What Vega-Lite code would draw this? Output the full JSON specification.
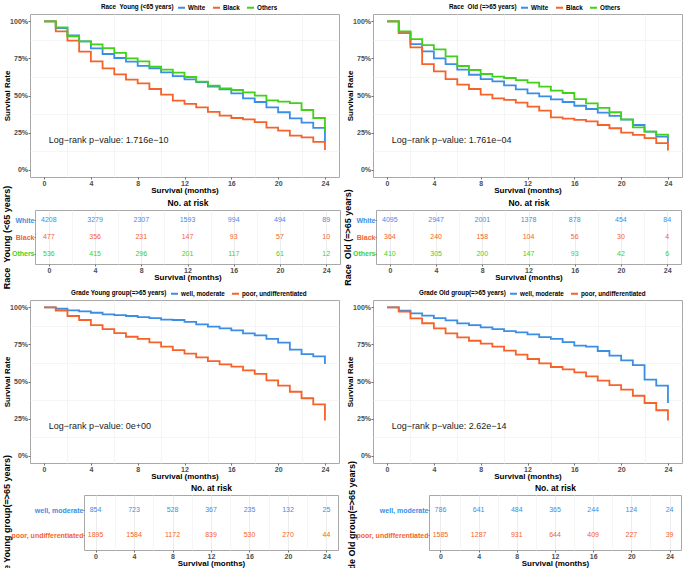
{
"$schema": "https://vega.github.io/schema/vega-lite/v6.json",
"background": "white",
"padding": {"left": 0, "top": 2, "right": 0, "bottom": 0},
"config": {
  "font": "Liberation Sans",
  "view": {"stroke": "#a8a8a8", "strokeWidth": 1},
  "axis": {"domain": false, "tickColor": "#4d4d4d", "tickSize": 2, "tickWidth": 0.8, "labelFontSize": 7, "labelFontWeight": "bold", "labelColor": "#4d4d4d", "labelPadding": 1, "titleFontSize": 8, "titleFontWeight": "bold", "titleColor": "#000000", "titlePadding": 0, "gridColor": "#e8e8e8", "gridWidth": 0.8},
  "legend": {"labelFontSize": 6.3, "labelFontWeight": "bold", "labelColor": "#000000", "titleFontSize": 6.3, "titleFontWeight": "bold", "titleColor": "#000000", "symbolType": "stroke", "symbolSize": 49, "symbolStrokeWidth": 2, "padding": 0, "columnPadding": 3, "labelOffset": 2, "titlePadding": 3}
},
"datasets": {
"km1": [
{"t":0,"g":"White","s":100},{"t":1,"g":"White","s":95.5},{"t":2,"g":"White","s":90.5},{"t":3,"g":"White","s":86.5},{"t":4,"g":"White","s":81.8},{"t":5,"g":"White","s":78},{"t":6,"g":"White","s":75.3},{"t":7,"g":"White","s":72.8},{"t":8,"g":"White","s":70},{"t":9,"g":"White","s":68.3},{"t":10,"g":"White","s":65.6},{"t":11,"g":"White","s":63.1},{"t":12,"g":"White","s":60.9},{"t":13,"g":"White","s":59.1},{"t":14,"g":"White","s":56},{"t":15,"g":"White","s":54.2},{"t":16,"g":"White","s":51.5},{"t":17,"g":"White","s":48.1},{"t":18,"g":"White","s":45.6},{"t":19,"g":"White","s":42},{"t":20,"g":"White","s":38.7},{"t":21,"g":"White","s":34.6},{"t":22,"g":"White","s":31.7},{"t":23,"g":"White","s":28.1},{"t":24,"g":"White","s":18.4},
{"t":0,"g":"Black","s":100},{"t":1,"g":"Black","s":93.3},{"t":2,"g":"Black","s":87},{"t":3,"g":"Black","s":79.6},{"t":4,"g":"Black","s":73},{"t":5,"g":"Black","s":68.3},{"t":6,"g":"Black","s":64.3},{"t":7,"g":"Black","s":60.7},{"t":8,"g":"Black","s":58.2},{"t":9,"g":"Black","s":54.4},{"t":10,"g":"Black","s":50.6},{"t":11,"g":"Black","s":46.5},{"t":12,"g":"Black","s":44.3},{"t":13,"g":"Black","s":42},{"t":14,"g":"Black","s":38.9},{"t":15,"g":"Black","s":36.4},{"t":16,"g":"Black","s":34.8},{"t":17,"g":"Black","s":33.9},{"t":18,"g":"Black","s":32.1},{"t":19,"g":"Black","s":28.3},{"t":20,"g":"Black","s":26.3},{"t":21,"g":"Black","s":22.9},{"t":22,"g":"Black","s":21.8},{"t":23,"g":"Black","s":18.7},{"t":24,"g":"Black","s":13.3},
{"t":0,"g":"Others","s":100},{"t":1,"g":"Others","s":96},{"t":2,"g":"Others","s":90},{"t":3,"g":"Others","s":86.5},{"t":4,"g":"Others","s":84.5},{"t":5,"g":"Others","s":82},{"t":6,"g":"Others","s":78.7},{"t":7,"g":"Others","s":75},{"t":8,"g":"Others","s":73},{"t":9,"g":"Others","s":69.4},{"t":10,"g":"Others","s":67.4},{"t":11,"g":"Others","s":65.4},{"t":12,"g":"Others","s":62.5},{"t":13,"g":"Others","s":59.3},{"t":14,"g":"Others","s":56.6},{"t":15,"g":"Others","s":54.8},{"t":16,"g":"Others","s":53.7},{"t":17,"g":"Others","s":52.1},{"t":18,"g":"Others","s":49.9},{"t":19,"g":"Others","s":46.7},{"t":20,"g":"Others","s":45.8},{"t":21,"g":"Others","s":44.9},{"t":22,"g":"Others","s":40.2},{"t":23,"g":"Others","s":34.8},{"t":24,"g":"Others","s":26}
],
"km2": [
{"t":0,"g":"White","s":100},{"t":1,"g":"White","s":93},{"t":2,"g":"White","s":84.7},{"t":3,"g":"White","s":79.8},{"t":4,"g":"White","s":75.1},{"t":5,"g":"White","s":71.2},{"t":6,"g":"White","s":67.4},{"t":7,"g":"White","s":64},{"t":8,"g":"White","s":61.1},{"t":9,"g":"White","s":59.6},{"t":10,"g":"White","s":56.9},{"t":11,"g":"White","s":54.2},{"t":12,"g":"White","s":51.5},{"t":13,"g":"White","s":49.4},{"t":14,"g":"White","s":47.4},{"t":15,"g":"White","s":45.6},{"t":16,"g":"White","s":43.1},{"t":17,"g":"White","s":40.9},{"t":18,"g":"White","s":38.4},{"t":19,"g":"White","s":36.2},{"t":20,"g":"White","s":33.7},{"t":21,"g":"White","s":30.1},{"t":22,"g":"White","s":25.6},{"t":23,"g":"White","s":22.2},{"t":24,"g":"White","s":18},
{"t":0,"g":"Black","s":100},{"t":1,"g":"Black","s":92.1},{"t":2,"g":"Black","s":82.5},{"t":3,"g":"Black","s":71.2},{"t":4,"g":"Black","s":66.3},{"t":5,"g":"Black","s":61.1},{"t":6,"g":"Black","s":57.3},{"t":7,"g":"Black","s":54.4},{"t":8,"g":"Black","s":50.6},{"t":9,"g":"Black","s":48.1},{"t":10,"g":"Black","s":47},{"t":11,"g":"Black","s":45.2},{"t":12,"g":"Black","s":42.5},{"t":13,"g":"Black","s":39.8},{"t":14,"g":"Black","s":35.3},{"t":15,"g":"Black","s":34.4},{"t":16,"g":"Black","s":33.5},{"t":17,"g":"Black","s":32.6},{"t":18,"g":"Black","s":30.1},{"t":19,"g":"Black","s":27.9},{"t":20,"g":"Black","s":24.9},{"t":21,"g":"Black","s":23.4},{"t":22,"g":"Black","s":21.3},{"t":23,"g":"Black","s":17.8},{"t":24,"g":"Black","s":12.8},
{"t":0,"g":"Others","s":100},{"t":1,"g":"Others","s":93.3},{"t":2,"g":"Others","s":88.1},{"t":3,"g":"Others","s":84},{"t":4,"g":"Others","s":81.1},{"t":5,"g":"Others","s":76.4},{"t":6,"g":"Others","s":69.9},{"t":7,"g":"Others","s":67.2},{"t":8,"g":"Others","s":64.5},{"t":9,"g":"Others","s":62.7},{"t":10,"g":"Others","s":61.8},{"t":11,"g":"Others","s":60.4},{"t":12,"g":"Others","s":58.7},{"t":13,"g":"Others","s":56},{"t":14,"g":"Others","s":53.3},{"t":15,"g":"Others","s":51.7},{"t":16,"g":"Others","s":47.6},{"t":17,"g":"Others","s":44.7},{"t":18,"g":"Others","s":41.6},{"t":19,"g":"Others","s":38.7},{"t":20,"g":"Others","s":33.9},{"t":21,"g":"Others","s":28.5},{"t":22,"g":"Others","s":25.6},{"t":23,"g":"Others","s":23.6},{"t":24,"g":"Others","s":22}
],
"km3": [
{"t":0,"g":"well, moderate","s":100},{"t":1,"g":"well, moderate","s":99.1},{"t":2,"g":"well, moderate","s":98},{"t":3,"g":"well, moderate","s":97.3},{"t":4,"g":"well, moderate","s":96.4},{"t":5,"g":"well, moderate","s":95.3},{"t":6,"g":"well, moderate","s":94.8},{"t":7,"g":"well, moderate","s":94.2},{"t":8,"g":"well, moderate","s":93.5},{"t":9,"g":"well, moderate","s":92.8},{"t":10,"g":"well, moderate","s":91.7},{"t":11,"g":"well, moderate","s":91.5},{"t":12,"g":"well, moderate","s":90.3},{"t":13,"g":"well, moderate","s":88.5},{"t":14,"g":"well, moderate","s":87},{"t":15,"g":"well, moderate","s":85.8},{"t":16,"g":"well, moderate","s":84.5},{"t":17,"g":"well, moderate","s":82.5},{"t":18,"g":"well, moderate","s":81.1},{"t":19,"g":"well, moderate","s":78.7},{"t":20,"g":"well, moderate","s":76.2},{"t":21,"g":"well, moderate","s":71.5},{"t":22,"g":"well, moderate","s":68.5},{"t":23,"g":"well, moderate","s":67},{"t":24,"g":"well, moderate","s":61.8},
{"t":0,"g":"poor, undifferentiated","s":100},{"t":1,"g":"poor, undifferentiated","s":97.8},{"t":2,"g":"poor, undifferentiated","s":94.2},{"t":3,"g":"poor, undifferentiated","s":91.5},{"t":4,"g":"poor, undifferentiated","s":88.1},{"t":5,"g":"poor, undifferentiated","s":85.4},{"t":6,"g":"poor, undifferentiated","s":82.7},{"t":7,"g":"poor, undifferentiated","s":80.2},{"t":8,"g":"poor, undifferentiated","s":78.7},{"t":9,"g":"poor, undifferentiated","s":76.4},{"t":10,"g":"poor, undifferentiated","s":73.5},{"t":11,"g":"poor, undifferentiated","s":71.2},{"t":12,"g":"poor, undifferentiated","s":68.8},{"t":13,"g":"poor, undifferentiated","s":66.3},{"t":14,"g":"poor, undifferentiated","s":63.8},{"t":15,"g":"poor, undifferentiated","s":61.6},{"t":16,"g":"poor, undifferentiated","s":60},{"t":17,"g":"poor, undifferentiated","s":57.5},{"t":18,"g":"poor, undifferentiated","s":55.1},{"t":19,"g":"poor, undifferentiated","s":50.8},{"t":20,"g":"poor, undifferentiated","s":47.2},{"t":21,"g":"poor, undifferentiated","s":43.1},{"t":22,"g":"poor, undifferentiated","s":38.7},{"t":23,"g":"poor, undifferentiated","s":34.6},{"t":24,"g":"poor, undifferentiated","s":23.6}
],
"km4": [
{"t":0,"g":"well, moderate","s":100},{"t":1,"g":"well, moderate","s":97.8},{"t":2,"g":"well, moderate","s":96},{"t":3,"g":"well, moderate","s":94.4},{"t":4,"g":"well, moderate","s":92.8},{"t":5,"g":"well, moderate","s":91.2},{"t":6,"g":"well, moderate","s":89.2},{"t":7,"g":"well, moderate","s":88.1},{"t":8,"g":"well, moderate","s":86.5},{"t":9,"g":"well, moderate","s":85.4},{"t":10,"g":"well, moderate","s":84},{"t":11,"g":"well, moderate","s":83.2},{"t":12,"g":"well, moderate","s":81.8},{"t":13,"g":"well, moderate","s":80},{"t":14,"g":"well, moderate","s":78.7},{"t":15,"g":"well, moderate","s":76.6},{"t":16,"g":"well, moderate","s":74.2},{"t":17,"g":"well, moderate","s":73.5},{"t":18,"g":"well, moderate","s":70.6},{"t":19,"g":"well, moderate","s":67.4},{"t":20,"g":"well, moderate","s":64.3},{"t":21,"g":"well, moderate","s":61.1},{"t":22,"g":"well, moderate","s":51.2},{"t":23,"g":"well, moderate","s":47.2},{"t":24,"g":"well, moderate","s":35.5},
{"t":0,"g":"poor, undifferentiated","s":100},{"t":1,"g":"poor, undifferentiated","s":97.1},{"t":2,"g":"poor, undifferentiated","s":92.6},{"t":3,"g":"poor, undifferentiated","s":89.3},{"t":4,"g":"poor, undifferentiated","s":85.8},{"t":5,"g":"poor, undifferentiated","s":82.5},{"t":6,"g":"poor, undifferentiated","s":79.8},{"t":7,"g":"poor, undifferentiated","s":77.5},{"t":8,"g":"poor, undifferentiated","s":75.5},{"t":9,"g":"poor, undifferentiated","s":73.5},{"t":10,"g":"poor, undifferentiated","s":70.8},{"t":11,"g":"poor, undifferentiated","s":68.1},{"t":12,"g":"poor, undifferentiated","s":65.2},{"t":13,"g":"poor, undifferentiated","s":62.2},{"t":14,"g":"poor, undifferentiated","s":59.8},{"t":15,"g":"poor, undifferentiated","s":58.2},{"t":16,"g":"poor, undifferentiated","s":56.2},{"t":17,"g":"poor, undifferentiated","s":53.5},{"t":18,"g":"poor, undifferentiated","s":50.6},{"t":19,"g":"poor, undifferentiated","s":47.6},{"t":20,"g":"poor, undifferentiated","s":44.5},{"t":21,"g":"poor, undifferentiated","s":40.4},{"t":22,"g":"poor, undifferentiated","s":35.5},{"t":23,"g":"poor, undifferentiated","s":30.6},{"t":24,"g":"poor, undifferentiated","s":23.6}
],
"rt1": [
{"t":0,"g":"White","n":4208},{"t":4,"g":"White","n":3279},{"t":8,"g":"White","n":2307},{"t":12,"g":"White","n":1593},{"t":16,"g":"White","n":994},{"t":20,"g":"White","n":494},{"t":24,"g":"White","n":89},
{"t":0,"g":"Black","n":477},{"t":4,"g":"Black","n":356},{"t":8,"g":"Black","n":231},{"t":12,"g":"Black","n":147},{"t":16,"g":"Black","n":93},{"t":20,"g":"Black","n":57},{"t":24,"g":"Black","n":10},
{"t":0,"g":"Others","n":536},{"t":4,"g":"Others","n":415},{"t":8,"g":"Others","n":296},{"t":12,"g":"Others","n":201},{"t":16,"g":"Others","n":117},{"t":20,"g":"Others","n":61},{"t":24,"g":"Others","n":12}
],
"rt2": [
{"t":0,"g":"White","n":4095},{"t":4,"g":"White","n":2947},{"t":8,"g":"White","n":2001},{"t":12,"g":"White","n":1378},{"t":16,"g":"White","n":878},{"t":20,"g":"White","n":454},{"t":24,"g":"White","n":84},
{"t":0,"g":"Black","n":364},{"t":4,"g":"Black","n":240},{"t":8,"g":"Black","n":158},{"t":12,"g":"Black","n":104},{"t":16,"g":"Black","n":56},{"t":20,"g":"Black","n":30},{"t":24,"g":"Black","n":4},
{"t":0,"g":"Others","n":410},{"t":4,"g":"Others","n":305},{"t":8,"g":"Others","n":200},{"t":12,"g":"Others","n":147},{"t":16,"g":"Others","n":93},{"t":20,"g":"Others","n":42},{"t":24,"g":"Others","n":6}
],
"rt3": [
{"t":0,"g":"well, moderate","n":854},{"t":4,"g":"well, moderate","n":723},{"t":8,"g":"well, moderate","n":528},{"t":12,"g":"well, moderate","n":367},{"t":16,"g":"well, moderate","n":235},{"t":20,"g":"well, moderate","n":132},{"t":24,"g":"well, moderate","n":25},
{"t":0,"g":"poor, undifferentiated","n":1895},{"t":4,"g":"poor, undifferentiated","n":1584},{"t":8,"g":"poor, undifferentiated","n":1172},{"t":12,"g":"poor, undifferentiated","n":839},{"t":16,"g":"poor, undifferentiated","n":530},{"t":20,"g":"poor, undifferentiated","n":270},{"t":24,"g":"poor, undifferentiated","n":44}
],
"rt4": [
{"t":0,"g":"well, moderate","n":786},{"t":4,"g":"well, moderate","n":641},{"t":8,"g":"well, moderate","n":484},{"t":12,"g":"well, moderate","n":365},{"t":16,"g":"well, moderate","n":244},{"t":20,"g":"well, moderate","n":124},{"t":24,"g":"well, moderate","n":24},
{"t":0,"g":"poor, undifferentiated","n":1585},{"t":4,"g":"poor, undifferentiated","n":1287},{"t":8,"g":"poor, undifferentiated","n":931},{"t":12,"g":"poor, undifferentiated","n":644},{"t":16,"g":"poor, undifferentiated","n":409},{"t":20,"g":"poor, undifferentiated","n":227},{"t":24,"g":"poor, undifferentiated","n":39}
],
"empty": []
},
"resolve": {"scale": {"color": "independent"}, "legend": {"color": "independent"}},
"spacing": -2,
"vconcat": [
{"spacing": -11, "resolve": {"scale": {"color": "independent"}, "legend": {"color": "independent"}},
 "vconcat": [
  {"spacing": 0, "resolve": {"scale": {"color": "independent"}, "legend": {"color": "independent"}},
   "hconcat": [
    {"width": 2, "height": 1, "data": {"name": "empty"}, "mark": "text", "view": {"stroke": null}},
    {"spacing": 5, "resolve": {"scale": {"color": "independent"}, "legend": {"color": "independent"}},
     "hconcat": [
      {"width": 309, "height": 163, "data": {"name": "km1"},
       "resolve": {"axis": {"x": "independent", "y": "independent"}},
       "layer": [
        {"data": {"name": "empty"}, "mark": "text",
         "encoding": {
          "x": {"field": "t", "type": "quantitative", "scale": {"domain": [-1.2, 25.2], "nice": false, "zero": false}, "axis": {"orient": "top", "values": [2,6,10,14,18,22], "labels": false, "ticks": false, "domain": false, "title": null, "grid": true, "gridColor": "#f3f3f3", "minExtent": 0, "maxExtent": 0}},
          "y": {"field": "s", "type": "quantitative", "scale": {"domain": [-5, 105], "nice": false, "zero": false}, "axis": {"orient": "right", "values": [12.5,37.5,62.5,87.5], "labels": false, "ticks": false, "domain": false, "title": null, "grid": true, "gridColor": "#f3f3f3", "minExtent": 0, "maxExtent": 0}}
         }},
        {"mark": {"type": "line", "interpolate": "step-after", "strokeWidth": 1.8},
         "encoding": {
          "x": {"field": "t", "type": "quantitative", "scale": {"domain": [-1.2, 25.2], "nice": false, "zero": false}, "axis": {"values": [0,4,8,12,16,20,24], "title": "Survival (months)", "labelPadding": 0}},
          "y": {"field": "s", "type": "quantitative", "scale": {"domain": [-5, 105], "nice": false, "zero": false}, "axis": {"values": [0,25,50,75,100], "labelExpr": "datum.value + '%'", "title": "Survival Rate", "labelPadding": 0.5, "minExtent": 19, "maxExtent": 19}},
          "color": {"field": "g", "type": "nominal", "scale": {"domain": ["White","Black","Others"], "range": ["#3a8ee6","#f5622a","#42d11b"]}, "legend": {"title": "Race\u00a0\u00a0Young (<65 years)", "orient": "none", "legendX": 71, "legendY": -11, "direction": "horizontal", "titleOrient": "left", "columnPadding": 3}}
         }},
        {"data": {"values": [{}]}, "mark": {"type": "text", "text": "Log−rank p−value: 1.716e−10", "align": "left", "baseline": "middle", "fontSize": 9, "color": "#1a1a1a"},
         "encoding": {"x": {"datum": 0.4, "type": "quantitative", "axis": null}, "y": {"datum": 20, "type": "quantitative", "axis": null}}}
       ]},
      {"width": 309, "height": 163, "data": {"name": "km2"},
       "resolve": {"axis": {"x": "independent", "y": "independent"}},
       "layer": [
        {"data": {"name": "empty"}, "mark": "text",
         "encoding": {
          "x": {"field": "t", "type": "quantitative", "scale": {"domain": [-1.2, 25.2], "nice": false, "zero": false}, "axis": {"orient": "top", "values": [2,6,10,14,18,22], "labels": false, "ticks": false, "domain": false, "title": null, "grid": true, "gridColor": "#f3f3f3", "minExtent": 0, "maxExtent": 0}},
          "y": {"field": "s", "type": "quantitative", "scale": {"domain": [-5, 105], "nice": false, "zero": false}, "axis": {"orient": "right", "values": [12.5,37.5,62.5,87.5], "labels": false, "ticks": false, "domain": false, "title": null, "grid": true, "gridColor": "#f3f3f3", "minExtent": 0, "maxExtent": 0}}
         }},
        {"mark": {"type": "line", "interpolate": "step-after", "strokeWidth": 1.8},
         "encoding": {
          "x": {"field": "t", "type": "quantitative", "scale": {"domain": [-1.2, 25.2], "nice": false, "zero": false}, "axis": {"values": [0,4,8,12,16,20,24], "title": "Survival (months)", "labelPadding": 0}},
          "y": {"field": "s", "type": "quantitative", "scale": {"domain": [-5, 105], "nice": false, "zero": false}, "axis": {"values": [0,25,50,75,100], "labelExpr": "datum.value + '%'", "title": "Survival Rate", "labelPadding": 0.5, "minExtent": 19, "maxExtent": 19}},
          "color": {"field": "g", "type": "nominal", "scale": {"domain": ["White","Black","Others"], "range": ["#3a8ee6","#f5622a","#42d11b"]}, "legend": {"title": "Race\u00a0\u00a0Old (=>65 years)", "orient": "none", "legendX": 76, "legendY": -11, "direction": "horizontal", "titleOrient": "left", "columnPadding": 3}}
         }},
        {"data": {"values": [{}]}, "mark": {"type": "text", "text": "Log−rank p−value: 1.761e−04", "align": "left", "baseline": "middle", "fontSize": 9, "color": "#1a1a1a"},
         "encoding": {"x": {"datum": 0.4, "type": "quantitative", "axis": null}, "y": {"datum": 20, "type": "quantitative", "axis": null}}}
       ]}
     ]}
   ]},
  {"spacing": 0, "resolve": {"scale": {"color": "independent"}, "legend": {"color": "independent"}},
   "hconcat": [
    {"width": 1, "height": 1, "data": {"name": "empty"}, "mark": "text", "view": {"stroke": null}},
    {"spacing": 1, "resolve": {"scale": {"color": "independent"}, "legend": {"color": "independent"}},
     "hconcat": [
      {"width": 305, "height": 54, "data": {"name": "rt1"},
       "resolve": {"axis": {"x": "independent"}},
       "layer": [
        {"mark": {"type": "text", "fontSize": 7},
         "encoding": {
          "x": {"field": "t", "type": "quantitative", "scale": {"domain": [-1.2, 25.2], "nice": false, "zero": false}, "axis": {"values": [0,4,8,12,16,20,24], "title": "Survival (months)", "labelPadding": 0}},
          "y": {"field": "g", "type": "nominal", "sort": ["White","Black","Others"], "scale": {"type": "point", "padding": 0.6}, "axis": {"title": "Race\u00a0\u00a0Young (<65 years)", "grid": false, "titleFontSize": 9, "tickSize": 1, "labelPadding": 0, "labelColor": {"expr": "datum.value == 'White' ? '#3a8ee6' : datum.value == 'Black' ? '#f5622a' : '#42d11b'"}}},
          "text": {"field": "n", "type": "quantitative", "format": "d"},
          "color": {"field": "g", "type": "nominal", "scale": {"domain": ["White","Black","Others"], "range": ["#3a8ee6","#f5622a","#42d11b"]}, "legend": null}
         }},
        {"data": {"name": "empty"}, "mark": "text",
         "encoding": {"x": {"field": "t", "type": "quantitative", "scale": {"domain": [-1.2, 25.2], "nice": false, "zero": false}, "axis": {"orient": "top", "values": [2,6,10,14,18,22], "labels": false, "ticks": false, "domain": false, "grid": true, "gridColor": "#f3f3f3", "title": "No. at risk", "titleFontSize": 8.5, "titlePadding": 3}}}}
       ]},
      {"width": 305, "height": 54, "data": {"name": "rt2"},
       "resolve": {"axis": {"x": "independent"}},
       "layer": [
        {"mark": {"type": "text", "fontSize": 7},
         "encoding": {
          "x": {"field": "t", "type": "quantitative", "scale": {"domain": [-1.2, 25.2], "nice": false, "zero": false}, "axis": {"values": [0,4,8,12,16,20,24], "title": "Survival (months)", "labelPadding": 0}},
          "y": {"field": "g", "type": "nominal", "sort": ["White","Black","Others"], "scale": {"type": "point", "padding": 0.6}, "axis": {"title": "Race\u00a0\u00a0Old (=>65 years)", "grid": false, "titleFontSize": 9, "tickSize": 1, "labelPadding": 0, "labelColor": {"expr": "datum.value == 'White' ? '#3a8ee6' : datum.value == 'Black' ? '#f5622a' : '#42d11b'"}}},
          "text": {"field": "n", "type": "quantitative", "format": "d"},
          "color": {"field": "g", "type": "nominal", "scale": {"domain": ["White","Black","Others"], "range": ["#3a8ee6","#f5622a","#42d11b"]}, "legend": null}
         }},
        {"data": {"name": "empty"}, "mark": "text",
         "encoding": {"x": {"field": "t", "type": "quantitative", "scale": {"domain": [-1.2, 25.2], "nice": false, "zero": false}, "axis": {"orient": "top", "values": [2,6,10,14,18,22], "labels": false, "ticks": false, "domain": false, "grid": true, "gridColor": "#f3f3f3", "title": "No. at risk", "titleFontSize": 8.5, "titlePadding": 3}}}}
       ]}
     ]}
   ]}
 ]},
{"spacing": -28, "resolve": {"scale": {"color": "independent"}, "legend": {"color": "independent"}},
 "vconcat": [
  {"spacing": 0, "resolve": {"scale": {"color": "independent"}, "legend": {"color": "independent"}},
   "hconcat": [
    {"width": 2, "height": 1, "data": {"name": "empty"}, "mark": "text", "view": {"stroke": null}},
    {"spacing": 5, "resolve": {"scale": {"color": "independent"}, "legend": {"color": "independent"}},
     "hconcat": [
      {"width": 309, "height": 163, "data": {"name": "km3"},
       "resolve": {"axis": {"x": "independent", "y": "independent"}},
       "layer": [
        {"data": {"name": "empty"}, "mark": "text",
         "encoding": {
          "x": {"field": "t", "type": "quantitative", "scale": {"domain": [-1.2, 25.2], "nice": false, "zero": false}, "axis": {"orient": "top", "values": [2,6,10,14,18,22], "labels": false, "ticks": false, "domain": false, "title": null, "grid": true, "gridColor": "#f3f3f3", "minExtent": 0, "maxExtent": 0}},
          "y": {"field": "s", "type": "quantitative", "scale": {"domain": [-5, 105], "nice": false, "zero": false}, "axis": {"orient": "right", "values": [12.5,37.5,62.5,87.5], "labels": false, "ticks": false, "domain": false, "title": null, "grid": true, "gridColor": "#f3f3f3", "minExtent": 0, "maxExtent": 0}}
         }},
        {"mark": {"type": "line", "interpolate": "step-after", "strokeWidth": 1.8},
         "encoding": {
          "x": {"field": "t", "type": "quantitative", "scale": {"domain": [-1.2, 25.2], "nice": false, "zero": false}, "axis": {"values": [0,4,8,12,16,20,24], "title": "Survival (months)", "labelPadding": 0}},
          "y": {"field": "s", "type": "quantitative", "scale": {"domain": [-5, 105], "nice": false, "zero": false}, "axis": {"values": [0,25,50,75,100], "labelExpr": "datum.value + '%'", "title": "Survival Rate", "labelPadding": 0.5, "minExtent": 19, "maxExtent": 19}},
          "color": {"field": "g", "type": "nominal", "scale": {"domain": ["well, moderate","poor, undifferentiated"], "range": ["#3a8ee6","#f5622a"]}, "legend": {"title": "Grade Young group(=>65 years)", "orient": "none", "legendX": 41, "legendY": -11, "direction": "horizontal", "titleOrient": "left", "columnPadding": 3}}
         }},
        {"data": {"values": [{}]}, "mark": {"type": "text", "text": "Log−rank p−value: 0e+00", "align": "left", "baseline": "middle", "fontSize": 9, "color": "#1a1a1a"},
         "encoding": {"x": {"datum": 0.4, "type": "quantitative", "axis": null}, "y": {"datum": 20, "type": "quantitative", "axis": null}}}
       ]},
      {"width": 309, "height": 163, "data": {"name": "km4"},
       "resolve": {"axis": {"x": "independent", "y": "independent"}},
       "layer": [
        {"data": {"name": "empty"}, "mark": "text",
         "encoding": {
          "x": {"field": "t", "type": "quantitative", "scale": {"domain": [-1.2, 25.2], "nice": false, "zero": false}, "axis": {"orient": "top", "values": [2,6,10,14,18,22], "labels": false, "ticks": false, "domain": false, "title": null, "grid": true, "gridColor": "#f3f3f3", "minExtent": 0, "maxExtent": 0}},
          "y": {"field": "s", "type": "quantitative", "scale": {"domain": [-5, 105], "nice": false, "zero": false}, "axis": {"orient": "right", "values": [12.5,37.5,62.5,87.5], "labels": false, "ticks": false, "domain": false, "title": null, "grid": true, "gridColor": "#f3f3f3", "minExtent": 0, "maxExtent": 0}}
         }},
        {"mark": {"type": "line", "interpolate": "step-after", "strokeWidth": 1.8},
         "encoding": {
          "x": {"field": "t", "type": "quantitative", "scale": {"domain": [-1.2, 25.2], "nice": false, "zero": false}, "axis": {"values": [0,4,8,12,16,20,24], "title": "Survival (months)", "labelPadding": 0}},
          "y": {"field": "s", "type": "quantitative", "scale": {"domain": [-5, 105], "nice": false, "zero": false}, "axis": {"values": [0,25,50,75,100], "labelExpr": "datum.value + '%'", "title": "Survival Rate", "labelPadding": 0.5, "minExtent": 19, "maxExtent": 19}},
          "color": {"field": "g", "type": "nominal", "scale": {"domain": ["well, moderate","poor, undifferentiated"], "range": ["#3a8ee6","#f5622a"]}, "legend": {"title": "Grade Old group(=>65 years)", "orient": "none", "legendX": 46, "legendY": -11, "direction": "horizontal", "titleOrient": "left", "columnPadding": 3}}
         }},
        {"data": {"values": [{}]}, "mark": {"type": "text", "text": "Log−rank p−value: 2.62e−14", "align": "left", "baseline": "middle", "fontSize": 9, "color": "#1a1a1a"},
         "encoding": {"x": {"datum": 0.4, "type": "quantitative", "axis": null}, "y": {"datum": 20, "type": "quantitative", "axis": null}}}
       ]}
     ]}
   ]},
  {"spacing": 0, "resolve": {"scale": {"color": "independent"}, "legend": {"color": "independent"}},
   "hconcat": [
    {"width": 1, "height": 1, "data": {"name": "empty"}, "mark": "text", "view": {"stroke": null}},
    {"spacing": 7, "resolve": {"scale": {"color": "independent"}, "legend": {"color": "independent"}},
     "hconcat": [
      {"width": 254, "height": 55, "data": {"name": "rt3"},
       "resolve": {"axis": {"x": "independent"}},
       "layer": [
        {"mark": {"type": "text", "fontSize": 7},
         "encoding": {
          "x": {"field": "t", "type": "quantitative", "scale": {"domain": [-1.2, 25.2], "nice": false, "zero": false}, "axis": {"values": [0,4,8,12,16,20,24], "title": "Survival (months)", "labelPadding": 0}},
          "y": {"field": "g", "type": "nominal", "sort": ["well, moderate","poor, undifferentiated"], "scale": {"type": "point", "padding": 0.6}, "axis": {"title": "Grade Young group(=>65 years)", "grid": false, "titleFontSize": 9, "tickSize": 1, "labelPadding": 0, "labelColor": {"expr": "datum.value == 'well, moderate' ? '#3a8ee6' : '#f5622a'"}}},
          "text": {"field": "n", "type": "quantitative", "format": "d"},
          "color": {"field": "g", "type": "nominal", "scale": {"domain": ["well, moderate","poor, undifferentiated"], "range": ["#3a8ee6","#f5622a"]}, "legend": null}
         }},
        {"data": {"name": "empty"}, "mark": "text",
         "encoding": {"x": {"field": "t", "type": "quantitative", "scale": {"domain": [-1.2, 25.2], "nice": false, "zero": false}, "axis": {"orient": "top", "values": [2,6,10,14,18,22], "labels": false, "ticks": false, "domain": false, "grid": true, "gridColor": "#f3f3f3", "title": "No. at risk", "titleFontSize": 8.5, "titlePadding": 3}}}}
       ]},
      {"width": 252, "height": 55, "data": {"name": "rt4"},
       "resolve": {"axis": {"x": "independent"}},
       "layer": [
        {"mark": {"type": "text", "fontSize": 7},
         "encoding": {
          "x": {"field": "t", "type": "quantitative", "scale": {"domain": [-1.2, 25.2], "nice": false, "zero": false}, "axis": {"values": [0,4,8,12,16,20,24], "title": "Survival (months)", "labelPadding": 0}},
          "y": {"field": "g", "type": "nominal", "sort": ["well, moderate","poor, undifferentiated"], "scale": {"type": "point", "padding": 0.6}, "axis": {"title": "Grade Old group(=>65 years)", "grid": false, "titleFontSize": 9, "tickSize": 1, "labelPadding": 0, "labelColor": {"expr": "datum.value == 'well, moderate' ? '#3a8ee6' : '#f5622a'"}}},
          "text": {"field": "n", "type": "quantitative", "format": "d"},
          "color": {"field": "g", "type": "nominal", "scale": {"domain": ["well, moderate","poor, undifferentiated"], "range": ["#3a8ee6","#f5622a"]}, "legend": null}
         }},
        {"data": {"name": "empty"}, "mark": "text",
         "encoding": {"x": {"field": "t", "type": "quantitative", "scale": {"domain": [-1.2, 25.2], "nice": false, "zero": false}, "axis": {"orient": "top", "values": [2,6,10,14,18,22], "labels": false, "ticks": false, "domain": false, "grid": true, "gridColor": "#f3f3f3", "title": "No. at risk", "titleFontSize": 8.5, "titlePadding": 3}}}}
       ]}
     ]}
   ]}
 ]}
]
}
